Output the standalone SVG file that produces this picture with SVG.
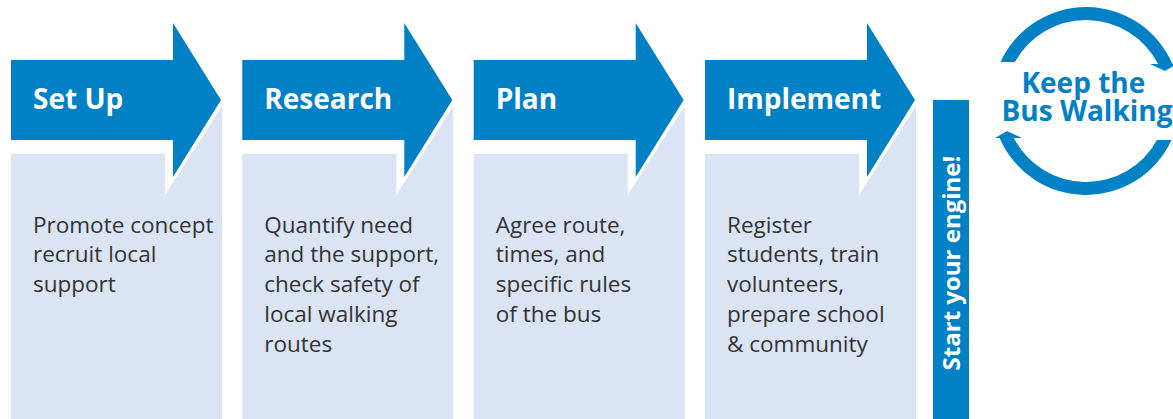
<svg xmlns="http://www.w3.org/2000/svg" xmlns:xlink="http://www.w3.org/1999/xlink" width="1173" height="419" viewBox="0 0 1173 419">
  <style>
    .arrow { fill: #0080C5; }
    .panel { fill: #DAE4F4; }
    .head { font-family: "Open Sans", "Liberation Sans", sans-serif; font-weight: 700; font-size: 28px; fill: #FFFFFF; }
    .side { font-family: "Open Sans", "Liberation Sans", sans-serif; font-weight: 700; font-size: 24px; fill: #FFFFFF; }
    .body { font-family: "Open Sans", "Liberation Sans", sans-serif; font-weight: 400; font-size: 22.5px; fill: #333333; }
    .loop { font-family: "Open Sans", "Liberation Sans", sans-serif; font-weight: 700; font-size: 28px; fill: #0080C5; }
  </style>
  <defs>
    <!-- step arrow: body plus head, origin at the left edge of the body -->
    <path id="stepArrow" d="M0,60 H162 V23 L210,100 L162,177 V140 H0 Z"/>
    <!-- text panel under each arrow, notched around the arrow head -->
    <path id="stepPanel" d="M0,154 H154 V195 L211,106 V419 H0 Z"/>
    <!-- one half of the circular loop, ending in an arrow head -->
    <path id="loopHalf" d="M1171.5,140 A94,94 0 0 1 999.6,138 L995,138 L1007,131 L1022,138 L1013.9,138 A81,81 0 0 0 1157,140 Z"/>
  </defs>

  <g id="step-setup">
    <use xlink:href="#stepPanel" class="panel" transform="translate(11,0)"/>
    <use xlink:href="#stepArrow" class="arrow" transform="translate(11,0)"/>
    <text class="head" x="33" y="109">Set Up</text>
    <text class="body" x="33" y="232.5">
      <tspan x="33">Promote concept</tspan>
      <tspan x="33" dy="29.8">recruit local</tspan>
      <tspan x="33" dy="29.8">support</tspan>
    </text>
  </g>

  <g id="step-research">
    <use xlink:href="#stepPanel" class="panel" transform="translate(242.3,0)"/>
    <use xlink:href="#stepArrow" class="arrow" transform="translate(242.3,0)"/>
    <text class="head" x="264.3" y="109">Research</text>
    <text class="body" x="264.3" y="232.5">
      <tspan x="264.3">Quantify need</tspan>
      <tspan x="264.3" dy="29.8">and the support,</tspan>
      <tspan x="264.3" dy="29.8">check safety of</tspan>
      <tspan x="264.3" dy="29.8">local walking</tspan>
      <tspan x="264.3" dy="29.8">routes</tspan>
    </text>
  </g>

  <g id="step-plan">
    <use xlink:href="#stepPanel" class="panel" transform="translate(473.7,0)"/>
    <use xlink:href="#stepArrow" class="arrow" transform="translate(473.7,0)"/>
    <text class="head" x="495.7" y="109">Plan</text>
    <text class="body" x="495.7" y="232.5">
      <tspan x="495.7">Agree route,</tspan>
      <tspan x="495.7" dy="29.8">times, and</tspan>
      <tspan x="495.7" dy="29.8">specific rules</tspan>
      <tspan x="495.7" dy="29.8">of the bus</tspan>
    </text>
  </g>

  <g id="step-implement">
    <use xlink:href="#stepPanel" class="panel" transform="translate(705,0)"/>
    <use xlink:href="#stepArrow" class="arrow" transform="translate(705,0)"/>
    <text class="head" x="727" y="109">Implement</text>
    <text class="body" x="727" y="232.5">
      <tspan x="727">Register</tspan>
      <tspan x="727" dy="29.8">students, train</tspan>
      <tspan x="727" dy="29.8">volunteers,</tspan>
      <tspan x="727" dy="29.8">prepare school</tspan>
      <tspan x="727" dy="29.8">&amp; community</tspan>
    </text>
  </g>

  <g id="start-engine">
    <rect x="933" y="100" width="36" height="319" class="arrow"/>
    <text class="side" text-anchor="middle" transform="translate(959.5,263) rotate(-90)">Start your engine!</text>
  </g>

  <g id="keep-walking">
    <use xlink:href="#loopHalf" class="arrow"/>
    <use xlink:href="#loopHalf" class="arrow" transform="rotate(180,1086,101)"/>
    <text class="loop" text-anchor="middle" x="1087" y="93">
      <tspan x="1087">Keep the</tspan>
      <tspan x="1087" dy="28">Bus Walking</tspan>
    </text>
  </g>
</svg>
